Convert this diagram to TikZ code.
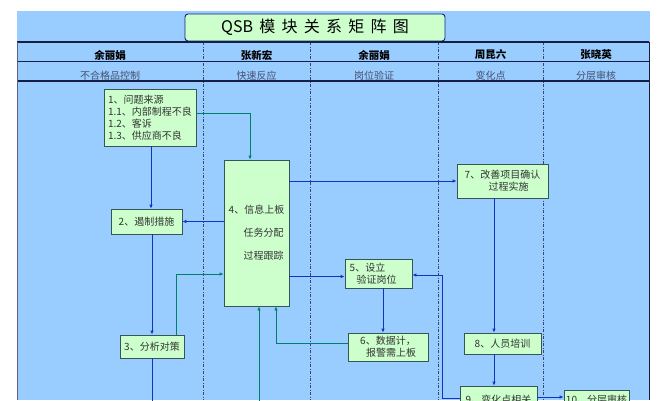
\documentclass[tikz,border=0pt]{standalone}
\usepackage{fontspec}
\setmainfont{Noto Sans CJK SC}
\usepackage{tikz}
\usetikzlibrary{calc}
\usetikzlibrary{arrows.meta}
\definecolor{bgBlue}{RGB}{153,204,255}
\definecolor{boxGreen}{RGB}{204,255,204}
\definecolor{boxEdge}{RGB}{55,85,85}
\definecolor{arrowBlue}{RGB}{20,50,190}
\definecolor{arrowGreen}{RGB}{0,128,100}
\definecolor{gridNavy}{RGB}{20,30,70}
\definecolor{divGray}{RGB}{60,70,110}
\definecolor{taskGray}{RGB}{70,80,110}
\tikzstyle{boxnode} = [draw=boxEdge, fill=boxGreen, rectangle, line width=0.8pt, inner sep=2pt, font=\fontsize{10}{12}\selectfont, text=black!80]
\tikzstyle{titlenode} = [draw=arrowBlue!70!black, fill=boxGreen, rectangle, rounded corners=3pt, line width=0.9pt, minimum width=260pt, minimum height=27pt, font=\fontsize{16}{18}\selectfont]
\tikzstyle{namenode} = [font=\fontsize{10.5}{12}\selectfont\bfseries, inner sep=0pt]
\tikzstyle{tasknode} = [font=\fontsize{10}{12}\selectfont, text=taskGray, inner sep=0pt]
\tikzstyle{linkBlue} = [draw=arrowBlue, line width=0.9pt, -{Latex[length=4pt,width=3.5pt]}]
\tikzstyle{linkGreen} = [draw=arrowGreen, line width=0.9pt, -{Latex[length=4pt,width=3.5pt]}]
\tikzstyle{colline} = [draw=divGray, line width=0.6pt, dash pattern=on 3pt off 1.5pt on 1pt off 1.5pt]
\tikzstyle{gridline} = [draw=gridNavy, line width=1.4pt]

\begin{document}
\begin{tikzpicture}[x=1pt, y=-1pt]
\clip (0,0) rectangle (667,400);
\fill[white] (0,0) rectangle (667,400);
\fill[bgBlue] (17,11) rectangle (650,400);

% header
\node[titlenode] (title) at (315,27.5) {QSB\, 模\, 块\, 关\, 系\, 矩\, 阵\, 图};
\foreach \cx in {203,310,438,543}
    \draw[colline] (\cx,42) -- (\cx,400);
\draw[gridline] (17,42) -- (649,42);
\draw[draw=gridNavy, line width=0.7pt] (17,61) -- (649,61);
\draw[gridline] (17,81) -- (649,81);
\draw[draw=gridNavy!70, line width=1pt] (17,42) -- (17,400);
\draw[draw=gridNavy, line width=1pt] (649,42) -- (649,400);
\foreach \cx/\who/\what [count=\i] in {110/余丽娟/不合格品控制, 256.5/张新宏/快速反应, 374/余丽娟/岗位验证, 490.5/周昆六/变化点, 596/张晓英/分层审核} {
    \node[namenode] (owner\i) at (\cx,55) {\who};
    \node[tasknode] (task\i) at (\cx,75.5) {\what};
}

% boxes
\node[boxnode, minimum width=92pt, minimum height=57pt, align=left] (src_box) at (150,117.5) {1、问题来源\\1.1、内部制程不良\\1.2、客诉\\1.3、供应商不良};
\node[boxnode, minimum width=71pt, minimum height=25pt] (contain_box) at ($(src_box)+(-3.5,104)$) {2、遏制措施};
\node[boxnode, minimum width=64pt, minimum height=23pt] (analyze_box) at ($(contain_box)+(5.5,125)$) {3、分析对策};
\node[boxnode, minimum width=65pt, minimum height=146pt, align=left, font=\fontsize{10}{23}\selectfont] (board_box) at ($(src_box)+(106.5,115.5)$) {4、信息上板\\\hspace*{15pt}任务分配\\\hspace*{15pt}过程跟踪};
\node[boxnode, minimum width=67pt, minimum height=29pt, align=left] (verify_box) at ($(board_box)+(122,40.5)$) {5、设立\hspace*{22pt}\\\hspace*{7pt}验证岗位};
\node[boxnode, minimum width=80pt, minimum height=28pt, align=center] (data_box) at ($(verify_box)+(9.5,73.5)$) {6、数据计，\\\hspace*{6pt}报警需上板};
\node[boxnode, minimum width=91pt, minimum height=34pt, align=center] (improve_box) at ($(board_box)+(246,-52)$) {7、改善项目确认\\\hspace*{12pt}过程实施};
\node[boxnode, minimum width=77pt, minimum height=21pt] (train_box) at ($(improve_box)+(0,162.5)$) {8、人员培训};
\node[boxnode, minimum width=77pt, minimum height=28pt] (change_box) at ($(train_box)+(-4,56.5)$) {9、变化点相关};
\node[boxnode, minimum width=63pt, minimum height=20pt] (audit_box) at ($(change_box)+(98,0)$) {10、分层审核};
\coordinate (analyze_end) at (152,405);
\coordinate (board_feed) at (259,405);

% links
\draw[linkBlue] ([xshift=1pt]src_box.south) -- ([xshift=1pt]src_box.south |- contain_box.north);
\draw[linkGreen] ([yshift=4.5pt]src_box.east) -| ([xshift=-6.5pt]board_box.north);
\draw[linkBlue] (board_box.west |- contain_box.east) -- (contain_box.east);
\draw[linkBlue] (contain_box.south -| analyze_box.north) -- (analyze_box.north);
\draw[draw=arrowBlue, line width=0.9pt] (analyze_box.south) -- (analyze_end);
\draw[linkGreen] ([xshift=-8pt]analyze_box.north east) |- ([yshift=-41pt]board_box.west);
\draw[linkGreen] (board_feed) -- (board_feed |- board_box.south);
\draw[linkGreen] ([yshift=4pt]data_box.west) -| ([xshift=19.5pt]board_box.south);
\draw[linkBlue] (board_box.east |- improve_box.west) -- (improve_box.west);
\draw[linkBlue] ([yshift=-3pt]board_box.east |- verify_box.west) -- ([yshift=-3pt]verify_box.west);
\draw[linkBlue] ([xshift=4.5pt]verify_box.south) -- ([xshift=4.5pt]verify_box.south |- data_box.north);
\draw[linkBlue] ([xshift=-8.5pt]improve_box.south) -- ([xshift=-8.5pt]improve_box.south |- train_box.north);
\draw[linkBlue] ([xshift=-8.5pt]train_box.south) -- ([xshift=-8.5pt]train_box.south |- change_box.north);
\draw[linkBlue] ([yshift=2pt]change_box.west) -- ++(-17,0) |- ([yshift=-1.5pt]verify_box.east);
\draw[linkBlue] ([yshift=3pt]change_box.east) -- ([yshift=3pt]change_box.east -| audit_box.west);
\end{tikzpicture}
\end{document}
